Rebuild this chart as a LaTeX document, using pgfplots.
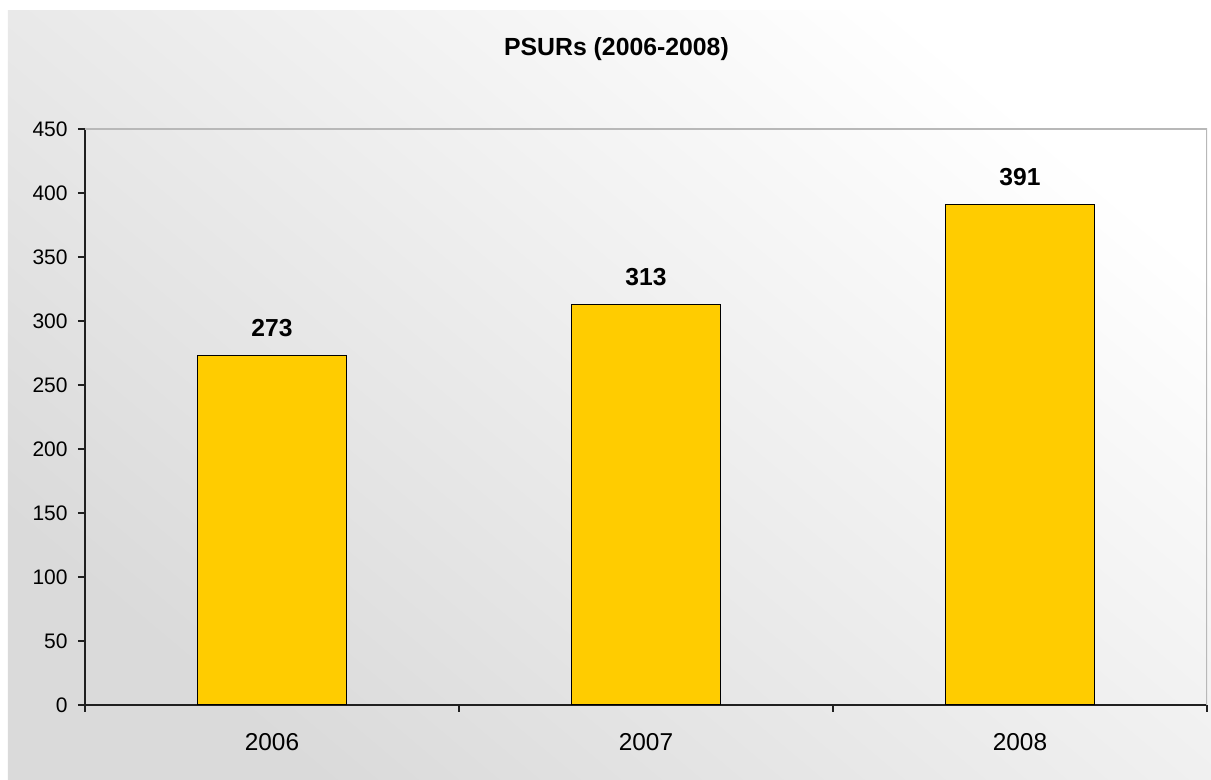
\documentclass[border=0pt]{standalone}
\usepackage{fontspec}
\setmainfont{Liberation Sans}
\usepackage{pgfplots}
\pgfplotsset{compat=1.18}
\definecolor{barfill}{HTML}{FFCC00}
\definecolor{bordergray}{HTML}{B8B8B8}
\definecolor{bgdark}{HTML}{DADADA}
\definecolor{axisblack}{HTML}{202020}
\begin{document}
\begin{tikzpicture}[x=1pt,y=1pt]
\path[use as bounding box, fill=white] (-42.5,-37.5) rectangle (563,352.5);
\shade[shading=axis, top color=white, bottom color=bgdark, shading angle=-40] (-38.5,-37.5) rectangle (563,347);
\node[font=\bfseries\fontsize{12.4}{14}\selectfont, anchor=base] at (265.75,324.5) {PSURs (2006-2008)};
\begin{axis}[
  at={(0,0)}, anchor=south west,
  scale only axis, width=561pt, height=288pt,
  ybar, bar width=0.4,
  xmin=-0.5, xmax=2.5, ymin=0, ymax=450,
  ytick={0,50,...,450},
  xtick={-0.5,0.5,1.5,2.5}, xticklabels={},
  extra x ticks={0,1,2},
  extra x tick labels={2006,2007,2008},
  extra x tick style={major tick length=0pt, xticklabel style={font=\fontsize{12.2}{14}\selectfont, inner sep=0pt, yshift=-14pt}},
  axis x line*=bottom, axis y line*=left,
  axis line style={axisblack, line width=0.6pt},
  tick style={axisblack, line width=0.6pt},
  tick align=outside, major tick length=3.5pt,
  /pgf/number format/assume math mode=true,
  yticklabel style={font=\fontsize{10.5}{12}\selectfont, inner sep=0pt, xshift=-5pt},
  nodes near coords,
  every node near coord/.style={font=\bfseries\fontsize{12.3}{14}\selectfont, inner sep=0pt, yshift=9pt, anchor=south, black},
]
\addplot[fill=barfill, draw=black, line width=0.6pt] coordinates {(0,273) (1,313) (2,391)};
\draw[bordergray, line width=0.8pt] (rel axis cs:0,1) -- (rel axis cs:1,1) -- (rel axis cs:1,0);
\end{axis}
\end{tikzpicture}
\end{document}
